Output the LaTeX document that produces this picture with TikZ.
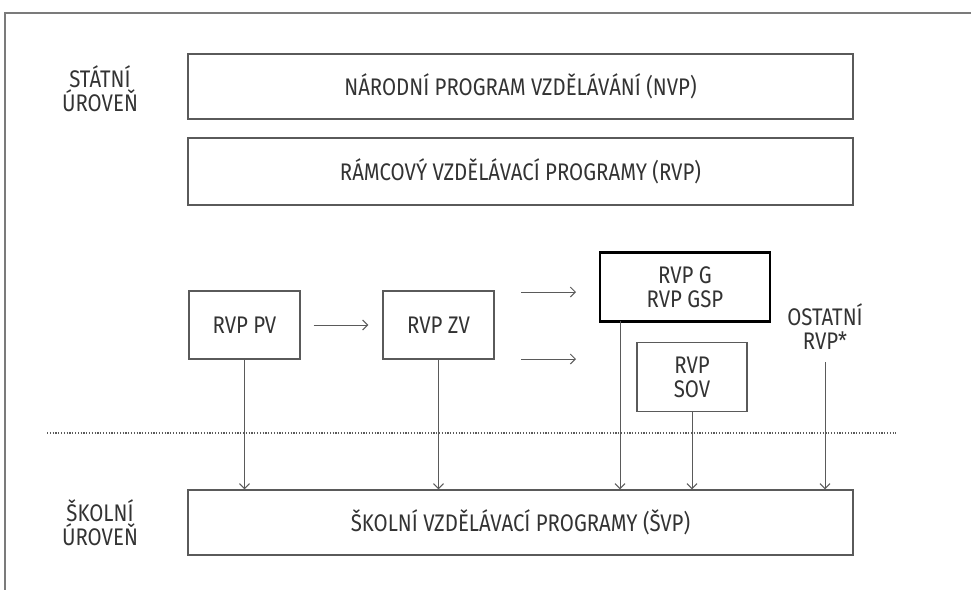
\documentclass[tikz,border=0pt]{standalone}
\usepackage{fontspec}
\setmainfont[FakeStretch=0.85]{Fira Sans}
\usetikzlibrary{arrows.meta}
\definecolor{boxline}{HTML}{5A5A5A}
\definecolor{labeltext}{HTML}{333333}
\tikzset{
	lvl/.style={font=\fontsize{12}{12}\selectfont,text=labeltext,align=center},
	box/.style={draw=boxline,line width=0.7pt,inner sep=0pt,font=\fontsize{12}{12}\selectfont,text=labeltext,align=center},
	conn/.style={draw=boxline,line width=0.5pt,-{Straight Barb[length=2.5pt,width=5pt]}}
}
\begin{document}
\begin{tikzpicture}[x=0.5pt,y=-0.5pt]
	\useasboundingbox (0,0) rectangle (971,590);
	\draw[boxline!80,line width=0.8pt] (971,13) -- (5,13) -- (5,590);
		\node[lvl] (stat) at (100,89) {STÁTNÍ\\ÚROVEŇ};
		\node[box,minimum width=332.5pt,minimum height=32.5pt] (nvp) at (520.5,86.5) {NÁRODNÍ PROGRAM VZDĚLÁVÁNÍ (NVP)};
		\node[box,minimum width=332.5pt,minimum height=33.5pt] (rvp) at (520.5,171.5) {RÁMCOVÝ VZDĚLÁVACÍ PROGRAMY (RVP)};
		\node[box,minimum width=55.5pt,minimum height=34pt] (pv) at (244.5,325) {RVP PV};
		\node[box,minimum width=55.5pt,minimum height=34pt] (zv) at (438.5,325) {RVP ZV};
		\node[box,draw=black,line width=1.3pt,minimum width=85pt,minimum height=34.5pt] (g) at (685,287) {RVP G\\RVP GSP};
		\node[box,minimum width=55pt,minimum height=34.5pt] (sov) at (692,377) {RVP\\SOV};
		\node[lvl] (ost) at (825,327) {OSTATNÍ\\RVP*};
		\node[box,minimum width=332.5pt,minimum height=32.5pt] (svp) at (520.5,522.5) {ŠKOLNÍ VZDĚLÁVACÍ PROGRAMY (ŠVP)};
		\node[lvl] (skol) at (100,523) {ŠKOLNÍ\\ÚROVEŇ};
	\draw[boxline,line width=0.8pt,dash pattern=on 0.6pt off 0.8pt] (47,433) -- (896,433);
	\coordinate (ga) at (521,292);
	\coordinate (gb) at (576,292);
	\coordinate (sa) at (521,359);
	\coordinate (sb) at (576,359);
	\coordinate (gfoot) at (620,321);
	\coordinate (ofoot) at (825,362);
		\draw[conn,shorten <=6.5pt,shorten >=7pt] (pv) -- (zv);
		\draw[conn] (ga) -- (gb);
		\draw[conn] (sa) -- (sb);
		\draw[conn] (pv.south) -- (pv.south |- svp.north);
		\draw[conn] (zv.south) -- (zv.south |- svp.north);
		\draw[conn] (gfoot) -- (gfoot |- svp.north);
		\draw[conn] (sov.south) -- (sov.south |- svp.north);
		\draw[conn] (ofoot) -- (ofoot |- svp.north);
\end{tikzpicture}
\end{document}
